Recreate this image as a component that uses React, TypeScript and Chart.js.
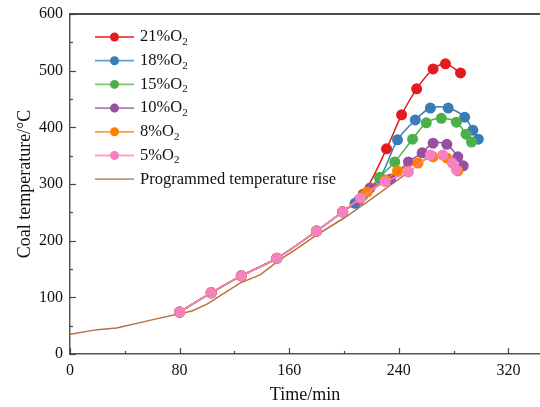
import React, { useEffect, useRef } from "react";
import { Chart, registerables } from "chart.js";

Chart.register(...registerables);

// ---- data ----
const redTime = [80, 103, 125, 151, 180, 199, 214, 231, 242, 253, 265, 274, 285];
const redTemp = [74, 108, 138, 169, 217, 251, 282, 362, 422, 468, 503, 512, 496];

const blueTime = [80, 103, 125, 151, 180, 199, 208, 226, 239, 252, 263, 276, 288, 294, 298];
const blueTemp = [74, 108, 138, 169, 217, 251, 266, 310, 378, 413, 434, 434, 418, 395, 379];

const greenTime = [80, 103, 125, 151, 180, 199, 214, 226, 237, 250, 260, 271, 282, 289, 293];
const greenTemp = [74, 108, 138, 169, 217, 251, 280, 312, 339, 379, 408, 416, 409, 388, 374];

const purpleTime = [80, 103, 125, 151, 180, 199, 211, 219, 234, 247, 257, 265, 275, 283, 287];
const purpleTemp = [74, 108, 138, 169, 217, 251, 272, 293, 309, 339, 355, 372, 370, 348, 332];

const orangeTime = [80, 103, 125, 151, 180, 199, 217, 230, 239, 254, 265, 275, 283];
const orangeTemp = [74, 108, 138, 169, 217, 251, 286, 307, 323, 337, 348, 346, 323];

const pinkTime = [80, 103, 125, 151, 180, 199, 212, 230, 247, 263, 272, 279, 282];
const pinkTemp = [74, 108, 138, 169, 217, 251, 275, 304, 321, 351, 351, 337, 325];

const progTime = [0, 20, 34, 63, 89, 100, 124, 139, 153, 168, 180, 200, 219, 235, 250];
const progTemp = [35, 43, 46, 62, 76, 88, 125, 140, 166, 190, 210, 240, 272, 300, 326];

const xTicks = [0, 80, 160, 240, 320];
const yTicks = [0, 100, 200, 300, 400, 500, 600];

const seriesLabels = ["21%", "18%", "15%", "10%", "8%", "5%"];
const progLabel = "Programmed temperature rise";

const colors = ["#e41a1c", "#377eb8", "#4daf4a", "#984ea3", "#ff7f00", "#f781bf"];
const progColor = "#b8703e";

const toPts = (t: number[], v: number[]) => t.map((x, i) => ({ x, y: v[i] }));

const FONT = "'Liberation Serif', 'Times New Roman', serif";

const decorPlugin = {
  id: "decor",
  afterDraw(chart: any) {
    const { ctx, chartArea, scales } = chart;
    const xs = scales.x;
    const ys = scales.y;
    ctx.save();
    // top frame
    ctx.strokeStyle = "#111";
    ctx.lineWidth = 1.5;
    ctx.beginPath();
    ctx.moveTo(chartArea.left, chartArea.top);
    ctx.lineTo(chartArea.right, chartArea.top);
    ctx.stroke();
    // ticks
    ctx.strokeStyle = "#444";
    ctx.lineWidth = 1.2;
    const bottom = chartArea.bottom;
    const left = chartArea.left;
    for (let v = 0; v <= 340; v += 40) {
      const px = Math.round(xs.getPixelForValue(v)) + 0.5;
      const len = v % 80 === 0 ? 6 : 3;
      ctx.beginPath();
      ctx.moveTo(px, bottom);
      ctx.lineTo(px, bottom - len);
      ctx.stroke();
    }
    for (let v = 0; v <= 600; v += 50) {
      const py = Math.round(ys.getPixelForValue(v)) + 0.5;
      const len = v % 100 === 0 ? 6 : 3;
      ctx.beginPath();
      ctx.moveTo(left, py);
      ctx.lineTo(left + len, py);
      ctx.stroke();
    }
    // legend
    const lx0 = 95;
    const lx1 = 134;
    const tx = 140;
    const y0 = 37;
    const dy = 23.7;
    const allColors = [...colors, progColor];
    for (let i = 0; i < 7; i++) {
      const y = y0 + i * dy;
      ctx.globalAlpha = 0.75;
      ctx.strokeStyle = allColors[i];
      ctx.lineWidth = 1.8;
      ctx.beginPath();
      ctx.moveTo(lx0, y);
      ctx.lineTo(lx1, y);
      ctx.stroke();
      ctx.globalAlpha = 1;
      if (i < 6) {
        ctx.fillStyle = allColors[i];
        ctx.beginPath();
        ctx.arc((lx0 + lx1) / 2, y, 4.5, 0, Math.PI * 2);
        ctx.fill();
      }
      ctx.fillStyle = "#111";
      ctx.textBaseline = "middle";
      ctx.textAlign = "left";
      ctx.font = `16.5px ${FONT}`;
      if (i < 6) {
        const main = seriesLabels[i] + "O";
        ctx.fillText(main, tx, y);
        const w = ctx.measureText(main).width;
        ctx.font = `11px ${FONT}`;
        ctx.fillText("2", tx + w, y + 5);
      } else {
        ctx.fillText(progLabel, tx, y);
      }
    }
    ctx.restore();
  },
};

export default function App() {
  const ref = useRef<HTMLCanvasElement | null>(null);
  useEffect(() => {
    if (!ref.current) return;
    const mk = (label: string, t: number[], v: number[], c: string, order: number) => ({
      label,
      data: toPts(t, v),
      borderColor: c,
      backgroundColor: c,
      borderWidth: 1.5,
      pointRadius: 5.5,
      pointBorderWidth: 0,
      pointBackgroundColor: c,
      tension: 0.3,
      order,
    });
    const chart = new Chart(ref.current, {
      type: "line",
      data: {
        datasets: [
          mk(seriesLabels[0] + "O2", redTime, redTemp, colors[0], 6),
          mk(seriesLabels[1] + "O2", blueTime, blueTemp, colors[1], 5),
          mk(seriesLabels[2] + "O2", greenTime, greenTemp, colors[2], 4),
          mk(seriesLabels[3] + "O2", purpleTime, purpleTemp, colors[3], 3),
          mk(seriesLabels[4] + "O2", orangeTime, orangeTemp, colors[4], 2),
          mk(seriesLabels[5] + "O2", pinkTime, pinkTemp, colors[5], 1),
          {
            label: progLabel,
            data: toPts(progTime, progTemp),
            borderColor: progColor,
            backgroundColor: progColor,
            borderWidth: 1.5,
            pointRadius: 0,
            tension: 0,
            order: 7,
          },
        ],
      },
      options: {
        responsive: false,
        animation: false,
        layout: { autoPadding: false, padding: { top: 14, right: 0, left: 0, bottom: 0 } },
        plugins: { legend: { display: false }, tooltip: { enabled: false } },
        scales: {
          x: {
            type: "linear",
            min: 0,
            max: 343,
            afterFit: (s: any) => {
              s.height = 53;
              s.paddingRight = 0;
              s.paddingLeft = 0;
            },
            afterBuildTicks: (s: any) => {
              s.ticks = xTicks.map((v) => ({ value: v }));
            },
            grid: { display: false, drawTicks: false },
            border: { display: true, color: "#555", width: 1.5 },
            ticks: {
              padding: 7,
              color: "#111",
              font: { family: FONT, size: 16 },
              maxRotation: 0,
            },
            title: {
              display: true,
              text: "Time/min",
              color: "#111",
              font: { family: FONT, size: 18 },
              padding: { top: 0, bottom: 1 },
            },
          },
          y: {
            type: "linear",
            min: 0,
            max: 600,
            afterFit: (s: any) => {
              s.width = 70;
              s.paddingTop = 0;
              s.paddingBottom = 0;
            },
            afterBuildTicks: (s: any) => {
              s.ticks = yTicks.map((v) => ({ value: v }));
            },
            grid: { display: false, drawTicks: false },
            border: { display: true, color: "#555", width: 1.5 },
            ticks: {
              padding: 7,
              color: "#111",
              font: { family: FONT, size: 16 },
            },
            title: {
              display: true,
              text: "Coal temperature/°C",
              color: "#111",
              font: { family: FONT, size: 18 },
              padding: { top: 14, bottom: 0 },
            },
          },
        },
      },
      plugins: [decorPlugin],
    } as any);
    return () => chart.destroy();
  }, []);
  return (
    <div style={{ position: "fixed", left: 0, top: 0, width: 540, height: 407, background: "#fff" }}>
      <canvas ref={ref} width={540} height={407} style={{ display: "block", width: 540, height: 407 }} />
    </div>
  );
}
